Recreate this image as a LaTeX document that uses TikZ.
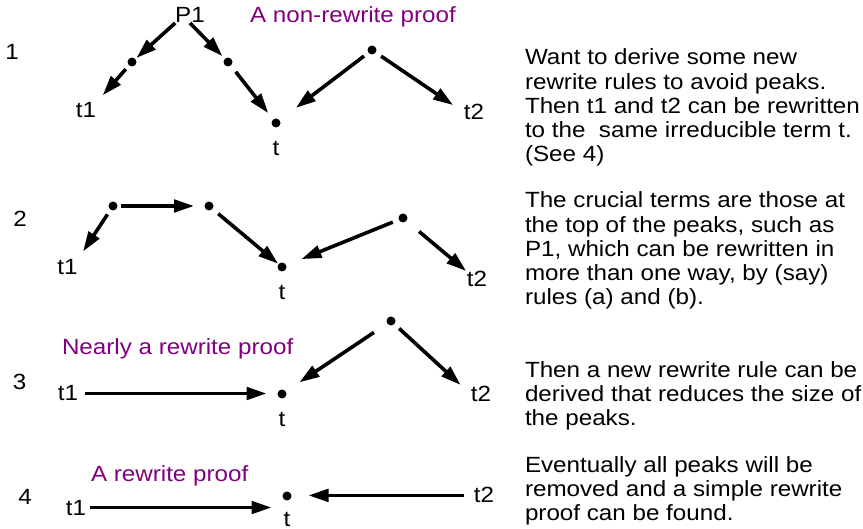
\documentclass[tikz,border=0pt]{standalone}
\usepackage{fontspec}
\setmainfont{Liberation Sans}[FakeStretch=1.1]
\usetikzlibrary{arrows.meta}
\definecolor{plum}{RGB}{128,0,128}
\begin{document}
\begin{tikzpicture}[x=1pt,y=-1pt,
  every node/.style={inner sep=0pt,outer sep=0pt,font=\fontsize{22}{24.3}\selectfont},
  dot/.style={circle,fill=black,minimum size=9pt},
  lbl/.style={anchor=base},
  ttl/.style={anchor=base west,text=plum},
  note/.style={anchor=base west,align=left},
  arr/.style={line width=3.6pt,-{Triangle[length=20pt,width=12.5pt]}}]
\useasboundingbox (0,0) rectangle (863,529);
% ---------- row 1
\node[lbl] (n1) at (12,59.5) {1};
\node[lbl] (P1) at (190,23) {P1};
\node[ttl] (h1) at (250,23) {A non-rewrite proof};
\node[dot] (a) at (132,62) {};
\node[dot] (b) at (228,62) {};
\node[dot] (c) at (372,50) {};
\node[dot] (ta) at (276,123) {};
\node[lbl] (t1a) at (86,118) {t1};
\node[lbl] (tta) at (276,156) {t};
\node[lbl] (t2a) at (474,120) {t2};
\draw[arr,shorten >=1.5pt] (P1.south west) -- (a);
\draw[arr,shorten >=3.5pt] (P1.south) -- (b);
\draw[arr,shorten <=5pt,shorten >=10pt] (a) -- (t1a.north east);
\draw[arr,shorten <=8pt,shorten >=8pt] (b) -- (ta);
\draw[arr,shorten <=5.5pt,shorten >=20.5pt] (c) -- (ta);
\draw[arr,shorten <=6.5pt,shorten >=13pt] (c) -- (t2a.west);
% ---------- row 2
\node[lbl] (n2) at (20,227) {2};
\node[dot] (c2) at (113,206) {};
\node[dot] (d2) at (209,206) {};
\node[dot] (e2) at (403,218) {};
\node[dot] (tb) at (282,267) {};
\node[lbl] (t1b) at (67.5,275) {t1};
\node[lbl] (ttb) at (282,300) {t};
\node[lbl] (t2b) at (477,287) {t2};
\draw[arr,shorten <=3.5pt,shorten >=10.5pt] (c2) -- (d2);
\draw[arr,shorten <=5.5pt,shorten >=10pt] (c2) -- (t1b.north east);
\draw[arr,shorten <=7.5pt,shorten >=0.5pt] (d2) -- (tb);
\draw[arr,shorten <=6.5pt,shorten >=16.5pt] (e2) -- (tb);
\draw[arr,shorten <=16.5pt,shorten >=1pt] (e2) -- (t2b.north west);
% ---------- row 3
\node[ttl] (h3) at (62,355) {Nearly a rewrite proof};
\node[lbl] (n3) at (19.5,390) {3};
\node[dot] (f) at (391,321) {};
\node[dot] (tc) at (282,394) {};
\node[lbl] (t1c) at (68,401) {t1};
\node[lbl] (ttc) at (282,427) {t};
\node[lbl] (t2c) at (481,402) {t2};
\draw[arr,shorten <=7pt,shorten >=11pt] (t1c.east) -- (t1c.east -| tc.west);
\draw[arr,shorten <=16pt,shorten >=16.5pt] (f) -- (tc);
\draw[arr,shorten <=6.5pt,shorten >=14pt] (f) -- (t2c.west);
% ---------- row 4
\node[ttl] (h4) at (91,482) {A rewrite proof};
\node[lbl] (n4) at (25,504) {4};
\node[dot] (td) at (287,496) {};
\node[lbl] (t1d) at (76,515) {t1};
\node[lbl] (ttd) at (287,526) {t};
\node[lbl] (t2d) at (484,503) {t2};
\draw[arr,shorten <=4pt,shorten >=11pt] (t1d.east) -- (t1d.east -| td.west);
\draw[arr,shorten <=10pt,shorten >=17pt] (t2d.west) -- (t2d.west -| td.east);
% ---------- notes (base anchor = last line)
\node[note] (m1) at (525,162) {Want to derive some new\\rewrite rules to avoid peaks.\\Then t1 and t2 can be rewritten\\to the\ \ same irreducible term t.\\(See 4)};
\node[note] (m2) at (525,305) {The crucial terms are those at\\the top of the peaks, such as\\P1, which can be rewritten in\\more than one way, by (say)\\rules (a) and (b).};
\node[note] (m3) at (525,426) {Then a new rewrite rule can be\\derived that reduces the size of\\the peaks.};
\node[note] (m4) at (525,521) {Eventually all peaks will be\\removed and a simple rewrite\\proof can be found.};
\end{tikzpicture}
\end{document}
